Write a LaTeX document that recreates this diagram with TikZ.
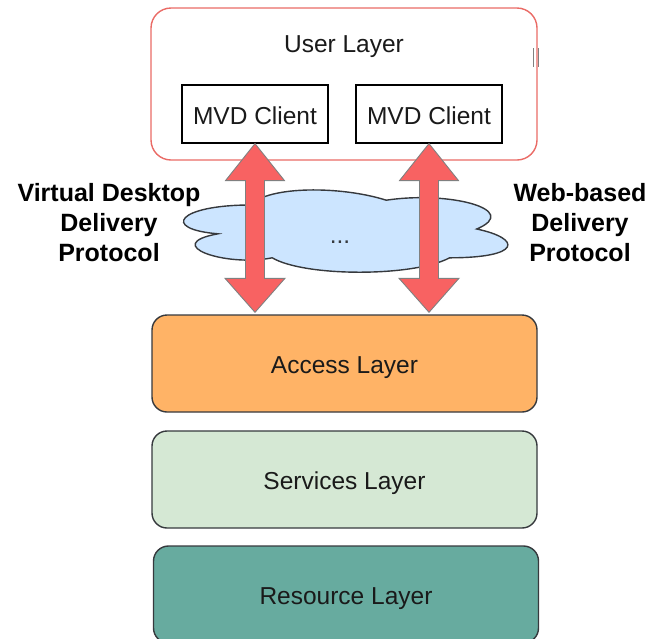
\documentclass[tikz,border=0pt]{standalone}
\usepackage{fontspec}
\setmainfont{Liberation Sans}
\usetikzlibrary{calc}

\definecolor{userred}{HTML}{EA6B66}
\definecolor{arrowred}{HTML}{F86262}
\definecolor{edgegray}{HTML}{36393D}
\definecolor{cloudblue}{HTML}{CCE5FF}
\definecolor{accessorange}{HTML}{FFB366}
\definecolor{servicesgreen}{HTML}{D5E8D4}
\definecolor{resourceteal}{HTML}{67AB9F}
\definecolor{textdark}{HTML}{1A1A1A}

\tikzset{
  txt/.style={font=\fontsize{24.5}{29}\selectfont, text=textdark},
  layerbox/.style={draw=edgegray, line width=1.4pt, rounded corners=15pt,
    minimum width=385pt, minimum height=97pt, inner sep=0pt, txt,
    text height=20.5pt, text depth=0pt},
  clientbox/.style={draw=black, line width=1.2pt, minimum width=146pt,
    minimum height=58pt, inner sep=0pt, fill=white, txt,
    text height=20pt, text depth=0pt},
  protolabel/.style={align=center, font=\fontsize{25}{30}\selectfont\bfseries, text=black},
  fatarrow/.style={fill=arrowred, draw=gray, line width=0.9pt, line join=miter},
}

% double-headed block arrow between two named points (#1 top, #2 bottom)
\newcommand\blockarrow[2]{%
  \draw[fatarrow] (#1) -- ($(#1)+(29.5,37)$) -- ($(#1)+(9.5,37)$)
    -- ($(#2)+(9.5,-34)$) -- ($(#2)+(30,-34)$) -- (#2)
    -- ($(#2)+(-30,-34)$) -- ($(#2)+(-9.5,-34)$)
    -- ($(#1)+(-9.5,37)$) -- ($(#1)+(-29.5,37)$) -- cycle;}

\begin{document}
\begin{tikzpicture}[x=1pt, y=-1pt]
\useasboundingbox (0,0) rectangle (652,638);
\clip (0,0) rectangle (652,638);

% user layer container
\node[draw=userred, line width=1.4pt, rounded corners=20pt, fill=white,
  minimum width=386pt, minimum height=152pt, inner sep=0pt] (user) at (344,84) {};
\node[txt, anchor=base] (usertitle) at (344,52) {User Layer};
\draw[gray, line width=1pt] (533,48) -- (533,67);
\draw[gray, line width=1pt] (538.5,48) -- (538.5,67);

\node[clientbox] (c1) at (255,114) {MVD Client};
\node[clientbox] (c2) at (429,114) {MVD Client};

% cloud (network)
\begin{scope}[shift={(160,181)}, x=362pt, y=-96pt]
\draw[fill=cloudblue, draw=edgegray, line width=1.4pt]
  (0.25,0.25) .. controls (0.05,0.25) and (0,0.5) .. (0.16,0.55)
  .. controls (0,0.66) and (0.18,0.9) .. (0.31,0.8)
  .. controls (0.4,1) and (0.7,1) .. (0.8,0.8)
  .. controls (1,0.8) and (1,0.6) .. (0.875,0.5)
  .. controls (1,0.3) and (0.8,0.1) .. (0.625,0.2)
  .. controls (0.5,0.05) and (0.3,0.05) .. (0.25,0.25) -- cycle;
\end{scope}
\node[txt, text=edgegray, anchor=base] (cloud) at (340,243) {...};

% lower layers
\node[layerbox, fill=accessorange] (access) at (344.5,363.5) {Access Layer};
\node[layerbox, fill=servicesgreen] (services) at (344.5,479.5) {Services Layer};
\node[layerbox, fill=resourceteal] (resource) at (346,594.5) {Resource Layer};

% delivery arrows
\coordinate (a1top) at (c1.south);
\coordinate (a1bot) at ($(c1.south |- access.north)+(0,-2)$);
\coordinate (a2top) at (c2.south);
\coordinate (a2bot) at ($(c2.south |- access.north)+(0,-2)$);
\blockarrow{a1top}{a1bot}
\blockarrow{a2top}{a2bot}

% protocol labels
\node[protolabel] (vddp) at (109,223) {Virtual Desktop\\Delivery\\Protocol};
\node[protolabel] (wbdp) at (580,223) {Web-based\\Delivery\\Protocol};
\end{tikzpicture}
\end{document}
